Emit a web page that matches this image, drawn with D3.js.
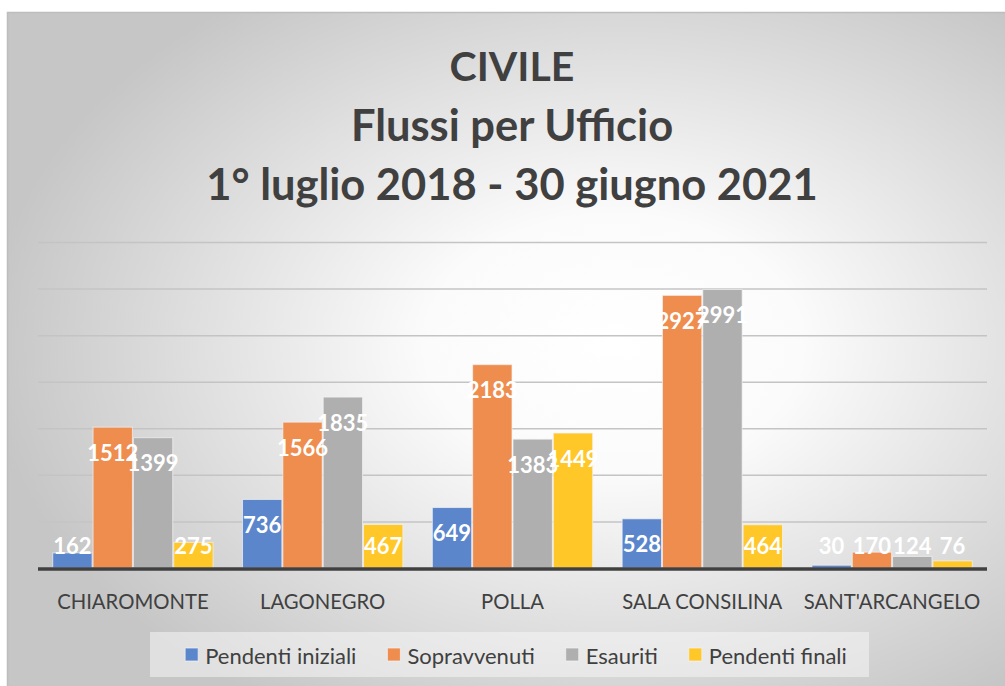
<!DOCTYPE html>
<html>
<head>
<meta charset="utf-8">
<script src="https://cdn.jsdelivr.net/npm/d3@7"></script>
<style>
  body { margin: 0; background: #fff; }
  text { font-family: Lato, "Open Sans", sans-serif; }
</style>
</head>
<body>
<div id="chart"></div>
<script>
// data
const offices = ["CHIAROMONTE", "LAGONEGRO", "POLLA", "SALA CONSILINA", "SANT'ARCANGELO"];
const seriesNames = ["Pendenti iniziali", "Sopravvenuti", "Esauriti", "Pendenti finali"];
const pendentiIniziali = [162, 736, 649, 528, 30];
const sopravvenuti = [1512, 1566, 2183, 2927, 170];
const esauriti = [1399, 1835, 1383, 2991, 124];
const pendentiFinali = [275, 467, 1449, 464, 76];
const yTicks = [0, 500, 1000, 1500, 2000, 2500, 3000, 3500];
const titleLines = ["CIVILE", "Flussi per Ufficio", "1° luglio 2018 - 30 giugno 2021"];

const seriesValues = [pendentiIniziali, sopravvenuti, esauriti, pendentiFinali];
const colors = ["#5b86cc", "#ef8d4e", "#afafaf", "#ffc727"];

const width = 1005, height = 686;
const margin = { top: 242, bottom: 118, left: 38, right: 18 };

const svg = d3.select("#chart")
  .append("svg")
  .attr("width", width)
  .attr("height", height);

// background gradient
const defs = svg.append("defs");
const grad = defs.append("radialGradient")
  .attr("id", "bg")
  .attr("cx", 0.6).attr("cy", 0.48)
  .attr("r", 0.62)
  .attr("fx", 0.6).attr("fy", 0.48);
grad.append("stop").attr("offset", 0).attr("stop-color", "#ffffff");
grad.append("stop").attr("offset", 0.3).attr("stop-color", "#fbfbfb");
grad.append("stop").attr("offset", 1).attr("stop-color", "#c6c6c6");

svg.append("rect")
  .attr("x", 7.5).attr("y", 12.5)
  .attr("width", 1010).attr("height", 690)
  .attr("fill", "url(#bg)")
  .attr("stroke", "#bdbdbd")
  .attr("stroke-width", 1.5);

// title
svg.append("g")
  .selectAll("text")
  .data(titleLines)
  .join("text")
  .attr("x", 512)
  .attr("y", (d, i) => 65 + i * 59)
  .attr("text-anchor", "middle")
  .attr("dominant-baseline", "central")
  .attr("fill", "#404040")
  .attr("font-weight", "bold")
  .attr("font-size", (d, i) => i === 0 ? 41 : 43.5)
  .text(d => d);

// scales
const x0 = d3.scaleBand()
  .domain(offices)
  .range([margin.left, width - margin.right])
  .paddingInner(0.15)
  .paddingOuter(0.075);

const x1 = d3.scaleBand()
  .domain(d3.range(seriesNames.length))
  .range([0, x0.bandwidth()]);

const y = d3.scaleLinear()
  .domain([0, 3500])
  .range([height - margin.bottom, margin.top]);

// gridlines
svg.append("g")
  .attr("transform", `translate(${margin.left},0)`)
  .call(d3.axisLeft(y).tickValues(yTicks.slice(1)).tickSize(-(width - margin.left - margin.right)).tickFormat(""))
  .call(g => g.select(".domain").remove())
  .call(g => g.selectAll("line").attr("stroke", "#c4c4c4").attr("stroke-width", 1.5));

// bars
const groups = svg.append("g")
  .selectAll("g")
  .data(offices)
  .join("g")
  .attr("transform", d => `translate(${x0(d)},0)`);

groups.selectAll("rect")
  .data((d, i) => seriesValues.map((vals, s) => ({ s, v: vals[i] })))
  .join("rect")
  .attr("x", d => x1(d.s) + 0.5)
  .attr("width", x1.bandwidth() - 1)
  .attr("y", d => y(d.v))
  .attr("height", d => y(0) - y(d.v))
  .attr("fill", d => colors[d.s])
  .attr("stroke", "#f4f4f4")
  .attr("stroke-opacity", 0.7)
  .attr("stroke-width", 1);

// baseline
svg.append("line")
  .attr("x1", margin.left).attr("x2", width - margin.right)
  .attr("y1", y(0) + 1).attr("y2", y(0) + 1)
  .attr("stroke", "#404040")
  .attr("stroke-width", 3.5);

// data labels
groups.selectAll("text.lbl")
  .data((d, i) => seriesValues.map((vals, s) => ({ s, v: vals[i] })))
  .join("text")
  .attr("class", "lbl")
  .attr("x", d => x1(d.s) + x1.bandwidth() / 2)
  .attr("y", d => Math.min(y(d.v) + 25, y(0) - 23))
  .attr("text-anchor", "middle")
  .attr("dominant-baseline", "central")
  .attr("fill", "#ffffff")
  .attr("font-weight", "bold")
  .attr("font-size", 22)
  .text(d => d.v);

// category axis labels
svg.append("g")
  .selectAll("text")
  .data(offices)
  .join("text")
  .attr("x", d => x0(d) + x0.bandwidth() / 2)
  .attr("y", 601)
  .attr("text-anchor", "middle")
  .attr("dominant-baseline", "central")
  .attr("fill", "#404040")
  .attr("font-size", 20.3)
  .text(d => d);

// legend
svg.append("rect")
  .attr("x", 150).attr("y", 632)
  .attr("width", 719).attr("height", 45)
  .attr("fill", "#f6f6f6")
  .attr("fill-opacity", 0.55);

const legend = svg.append("g");
const items = legend.selectAll("g")
  .data(seriesNames)
  .join("g");
items.append("rect")
  .attr("width", 13).attr("height", 13)
  .attr("y", 648)
  .attr("fill", (d, i) => colors[i])
  .attr("stroke", "#f4f4f4")
  .attr("stroke-opacity", 0.7);
items.append("text")
  .attr("x", 20)
  .attr("y", 655)
  .attr("dominant-baseline", "central")
  .attr("fill", "#404040")
  .attr("font-size", 22)
  .text(d => d);

let pos = 0;
const itemX = [];
items.each(function () {
  itemX.push(pos);
  pos += this.getBBox().width + 31;
});
const totalW = pos - 31;
const startX = 516 - totalW / 2;
items.attr("transform", (d, i) => `translate(${startX + itemX[i]},0)`);
</script>
</body>
</html>
